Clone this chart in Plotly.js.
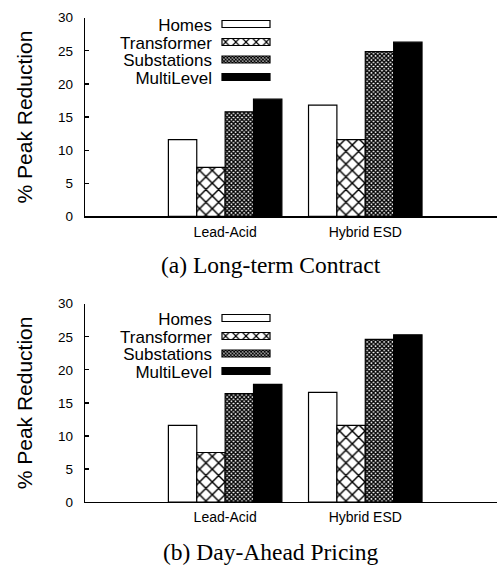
<!DOCTYPE html>
<html>
<head>
<meta charset="utf-8">
<script src="https://cdn.plot.ly/plotly-3.0.1.min.js"></script>
<style>
html,body{margin:0;padding:0;background:#fff;}
#chart{width:499px;height:576px;}
</style>
</head>
<body>
<div id="chart"></div>
<script>
// ---- data ----
var categories = ["Lead-Acid", "Hybrid ESD"];
var seriesNames = ["Homes", "Transformer", "Substations", "MultiLevel"];
// (a) Long-term Contract
var longHomes = [11.6, 16.8];
var longTransformer = [7.4, 11.6];
var longSubstations = [15.8, 24.9];
var longMultiLevel = [17.7, 26.3];
// (b) Day-Ahead Pricing
var dayHomes = [11.6, 16.6];
var dayTransformer = [7.5, 11.6];
var daySubstations = [16.4, 24.6];
var dayMultiLevel = [17.8, 25.3];
var yTickVals = [0, 5, 10, 15, 20, 25, 30];
var captions = ["(a) Long-term Contract", "(b) Day-Ahead Pricing"];
var yTitle = "% Peak Reduction";

// ---- styles ----
var styles = [
  {color: "#ffffff", pattern: {shape: ""}},
  {color: "#ffffff", pattern: {shape: "x", size: 9, solidity: 0.3, fgcolor: "#000", bgcolor: "#fff"}},
  {color: "#ffffff", pattern: {shape: "x", size: 3, solidity: 0.7, fgcolor: "#000", bgcolor: "#fff"}},
  {color: "#000000", pattern: {shape: ""}}
];

function makeTraces(vals, xa, ya, leg) {
  return vals.map(function (v, i) {
    return {
      type: "bar",
      name: seriesNames[i],
      x: categories,
      y: v,
      xaxis: xa,
      yaxis: ya,
      legend: leg,
      marker: {
        color: styles[i].color,
        pattern: styles[i].pattern,
        line: {color: "#000", width: 1.2}
      },
      hoverinfo: "skip"
    };
  });
}

var data = []
  .concat(makeTraces([longHomes, longTransformer, longSubstations, longMultiLevel], "x", "y", "legend"))
  .concat(makeTraces([dayHomes, dayTransformer, daySubstations, dayMultiLevel], "x2", "y2", "legend2"));

var W = 499, H = 576;
var xDom = [85 / W, 497 / W];
var topDom = [1 - 215 / H, 1 - 11 / H];
var botDom = [1 - 508.3 / H, 1 - 304.7 / H];

function xAxis(anchor) {
  return {
    domain: xDom, anchor: anchor, type: "category",
    range: [-1, 1.94], showline: true, linecolor: "#000", linewidth: 1.3,
    ticks: "", showgrid: false, zeroline: false, fixedrange: true,
    tickfont: {family: "Liberation Sans, Arial, sans-serif", size: 14, color: "#000"},
    ticklabelstandoff: 2
  };
}
function yAxis(dom, anchor) {
  return {
    domain: dom, anchor: anchor, range: [0, 30], tickvals: yTickVals,
    showline: true, linecolor: "#000", linewidth: 1.3,
    ticks: "inside", ticklen: 4, tickcolor: "#000", tickwidth: 1.2,
    showgrid: false, zeroline: false, fixedrange: true,
    tickfont: {family: "Liberation Sans, Arial, sans-serif", size: 13.5, color: "#000"},
    ticklabelstandoff: 8,
    automargin: true,
    title: {text: yTitle, standoff: 19, font: {family: "Liberation Sans, Arial, sans-serif", size: 21, color: "#000"}}
  };
}
function legendCfg(y) {
  return {x: 0.4, y: y, xanchor: "left", yanchor: "top", bgcolor: "rgba(0,0,0,0)", borderwidth: 0,
    font: {family: "Liberation Sans, Arial, sans-serif", size: 17, color: "#000"}, tracegroupgap: 0};
}

var layout = {
  width: W, height: H,
  margin: {l: 0, r: 0, t: 0, b: 0},
  paper_bgcolor: "#fff", plot_bgcolor: "#fff",
  barmode: "group", bargap: 0.19, bargroupgap: 0,
  showlegend: true,
  xaxis: xAxis("y"), yaxis: yAxis(topDom, "x"),
  xaxis2: xAxis("y2"), yaxis2: yAxis(botDom, "x2"),
  legend: legendCfg(0.98),
  legend2: legendCfg(0.47),
  annotations: [
    {text: captions[0], xref: "paper", yref: "paper", x: 271 / W, y: 1 - 265 / H, xanchor: "center", yanchor: "middle", showarrow: false,
      font: {family: "Liberation Serif, Times New Roman, serif", size: 23.5, color: "#000"}},
    {text: captions[1], xref: "paper", yref: "paper", x: 271 / W, y: 1 - 560 / H, xanchor: "center", yanchor: "middle", showarrow: false,
      font: {family: "Liberation Serif, Times New Roman, serif", size: 23.5, color: "#000"}}
  ]
};

// Legend layout like the original: label on the left, wide swatch on the right
var legendRows = {legend: [24, 42, 59.5, 77], legend2: [318, 336, 353.5, 371]};
var swatchCenterX = 246;

function restyleLegends(gd) {
  ["legend", "legend2"].forEach(function (id) {
    var lg = gd.querySelector(".infolayer g." + id);
    if (!lg) return;
    var rows = legendRows[id];
    lg.setAttribute("transform", "translate(0,0)");
    var bg = lg.querySelector("rect.bg");
    if (bg) bg.setAttribute("display", "none");
    var sb = lg.querySelector("g.scrollbox");
    if (sb) { sb.removeAttribute("clip-path"); sb.setAttribute("transform", "translate(0,0)"); }
    var items = lg.querySelectorAll("g.traces");
    items.forEach(function (it, k) {
      it.setAttribute("transform", "translate(" + swatchCenterX + "," + rows[k] + ")");
      var p = it.querySelector(".legendpoints path");
      if (p) {
        p.setAttribute("d", "M-24,-3.5H24V3.5H-24Z");
        p.setAttribute("transform", "translate(0,0)");
        p.style.strokeWidth = "1.2px";
      }
      var t = it.querySelector("text." + id + "text");
      if (t) {
        t.setAttribute("text-anchor", "end");
        t.setAttribute("x", -34);
        var ts = t.querySelectorAll("tspan");
        ts.forEach(function (s) { if (s.hasAttribute("x")) s.setAttribute("x", -34); });
      }
    });
  });
}

var gdiv = document.getElementById("chart");
Plotly.newPlot(gdiv, data, layout, {staticPlot: true, displayModeBar: false}).then(function (gd) {
  restyleLegends(gd);
  gd.on("plotly_afterplot", function () { restyleLegends(gd); });
});
</script>
</body>
</html>
